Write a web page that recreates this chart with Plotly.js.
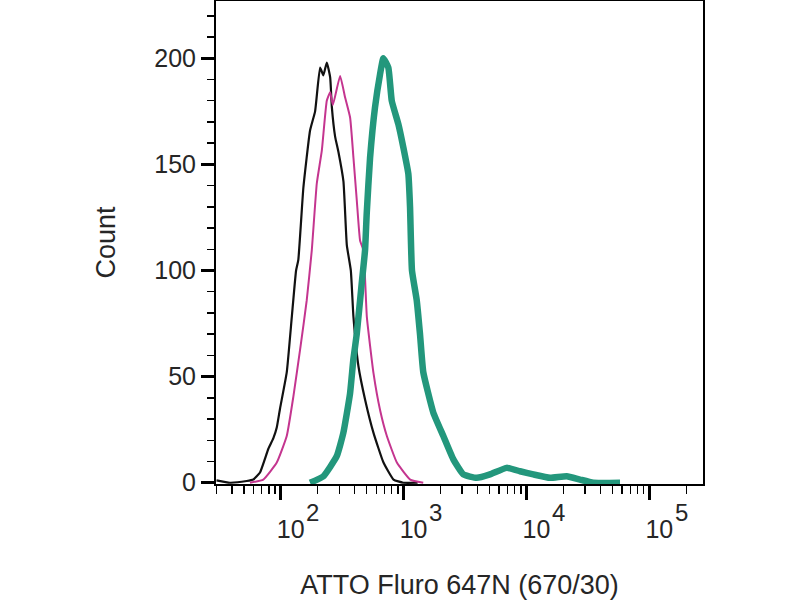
<!DOCTYPE html>
<html>
<head>
<meta charset="utf-8">
<script src="https://cdn.plot.ly/plotly-3.0.1.min.js"></script>
<style>html,body{margin:0;padding:0;background:#fff;}#chart{width:800px;height:600px;}</style>
</head>
<body>
<div id="chart"></div>
<script>
// Unstained control (black)
var blackX = [30, 38.6, 52.8, 59.8, 67.8, 79.3, 87.1, 92.8, 98.7, 111.9, 123, 133.3, 139, 152.8, 173.2, 190.4, 209, 222.4, 237, 252.5, 260.6, 277.3, 294.6, 323.8, 345, 372, 390.8, 428.7, 486.5, 568.7, 686, 827.6, 993, 1300];
var blackY = [1.1, 0, 0.8, 1.5, 4.8, 16, 21, 26, 35, 52, 78, 100, 105, 139, 166, 175, 195.6, 192, 198, 191, 177, 163, 156, 142, 112, 100, 78, 55, 39, 23.5, 9.5, 1.5, 0, 0];
// Isotype control (magenta)
var magentaX = [56.2, 72.1, 92.8, 111.9, 126.7, 143.6, 162.8, 178.9, 196.5, 215.9, 237, 252.5, 265.6, 304.3, 334.2, 367.1, 390.8, 416, 442.6, 471, 502.4, 568.7, 644.6, 730.5, 881.8, 1132, 1445];
var magentaY = [0, 1.5, 9.5, 22, 40.6, 62.6, 86, 109.5, 141, 156.5, 180, 184, 178, 191.7, 181.5, 172, 153, 133, 114, 109.5, 78, 51.6, 34, 22, 9.5, 1.5, 0];
// Stained sample (teal)
var tealX = [173.2, 222.2, 285.6, 323.2, 366.4, 389.8, 415.4, 456.2, 485.4, 501.1, 533.2, 585.5, 643.1, 683.9, 751.2, 800.8, 906, 995, 1093, 1128, 1170, 1279, 1360, 1447, 1746, 2106, 2540, 3063, 3937, 5050, 6908, 8862, 11370, 15550, 21270, 27290, 35010, 57740];
var tealY = [0, 3, 12.5, 23.5, 42, 58, 70, 94, 109.5, 127, 153, 177, 192.5, 200, 195.6, 180, 169, 158, 145.5, 130, 100, 86, 70, 52, 33, 22, 11, 3.9, 2.3, 3.9, 7, 5.4, 3.9, 2.3, 3.1, 1.5, 0, 0];

var xTickVals = [100, 1000, 10000, 100000];
var xTickText = ['10', '10', '10', '10'];
var xTickExponents = ['2', '3', '4', '5'];
var xMinorVals = [30, 40, 50, 60, 70, 80, 90, 200, 300, 400, 500, 600, 700, 800, 900, 2000, 3000, 4000, 5000, 6000, 7000, 8000, 9000, 20000, 30000, 40000, 50000, 60000, 70000, 80000, 90000, 200000];
var yTickVals = [0, 50, 100, 150, 200];
var yMinorVals = [10, 20, 30, 40, 60, 70, 80, 90, 110, 120, 130, 140, 160, 170, 180, 190, 210, 220];

var FONT = 'Liberation Sans, Arial, sans-serif';
var TXT = '#262626';

var traces = [
  {x: blackX, y: blackY, mode: 'lines', line: {color: '#111111', width: 2.2, shape: 'spline', smoothing: 0.4}, hoverinfo: 'skip'},
  {x: magentaX, y: magentaY, mode: 'lines', line: {color: '#c4358f', width: 2, shape: 'spline', smoothing: 0.4}, hoverinfo: 'skip'},
  {x: tealX, y: tealY, mode: 'lines', line: {color: '#23977c', width: 6.5, shape: 'spline', smoothing: 0.4}, hoverinfo: 'skip'}
];

var annotations = xTickVals.map(function (v, i) {
  return {
    x: Math.log10(v), xref: 'x', y: 0, yref: 'paper',
    text: xTickExponents[i], showarrow: false,
    xanchor: 'center', yanchor: 'middle', xshift: 32, yshift: -28,
    font: {family: FONT, size: 24, color: TXT}
  };
});

var layout = {
  width: 800, height: 600,
  margin: {l: 216, r: 97, t: 1, b: 116},
  paper_bgcolor: '#ffffff', plot_bgcolor: '#ffffff',
  showlegend: false,
  font: {family: FONT, color: TXT, size: 25},
  annotations: annotations,
  xaxis: {
    type: 'log', range: [1.473, 5.437], autorange: false,
    tickmode: 'array', tickvals: xTickVals, ticktext: xTickText,
    ticks: 'outside', ticklen: 14, tickwidth: 3, tickcolor: '#000',
    ticklabelshift: 10, ticklabelstandoff: 8,
    tickfont: {family: FONT, size: 25, color: TXT},
    showline: true, linecolor: '#000', linewidth: 2, mirror: true,
    showgrid: false, zeroline: false,
    minor: {tickmode: 'array', tickvals: xMinorVals, ticks: 'outside', ticklen: 8, tickwidth: 1.5, tickcolor: '#000', showgrid: false},
    title: {text: 'ATTO Fluro 647N (670/30)', font: {family: FONT, size: 27, color: TXT}, standoff: 41}
  },
  yaxis: {
    range: [-0.6, 227], autorange: false,
    tickmode: 'array', tickvals: yTickVals,
    ticks: 'outside', ticklen: 13, tickwidth: 3, tickcolor: '#000',
    tickfont: {family: FONT, size: 25, color: TXT},
    showline: true, linecolor: '#000', linewidth: 2, mirror: true,
    showgrid: false, zeroline: false,
    minor: {tickmode: 'array', tickvals: yMinorVals, ticks: 'outside', ticklen: 7, tickwidth: 1.5, tickcolor: '#000', showgrid: false},
    title: {text: 'Count', font: {family: FONT, size: 27, color: TXT}, standoff: 31}
  }
};

Plotly.newPlot('chart', traces, layout, {staticPlot: true, displayModeBar: false});
</script>
</body>
</html>
